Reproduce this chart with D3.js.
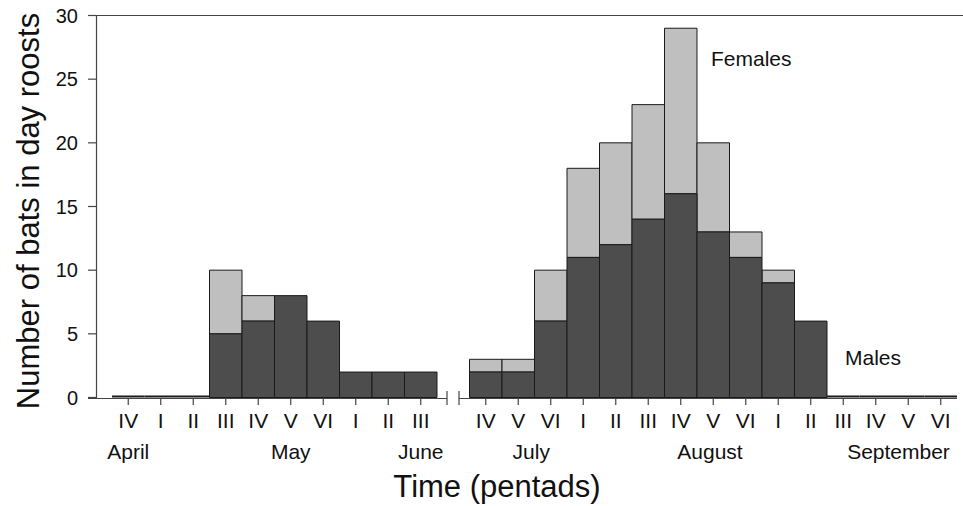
<!DOCTYPE html>
<html>
<head>
<meta charset="utf-8">
<script src="https://cdn.jsdelivr.net/npm/d3@7"></script>
<style>
  body { margin: 0; background: #fff; }
  svg text { font-family: "Liberation Sans", Arial, sans-serif; fill: #111; }
</style>
</head>
<body>
<div id="chart"></div>
<script>
// pentads, April IV .. June III, then (after the break) July IV .. September VI
const pentads = ["IV", "I", "II", "III", "IV", "V", "VI", "I", "II", "III",
                 "IV", "V", "VI", "I", "II", "III", "IV", "V", "VI", "I", "II", "III", "IV", "V", "VI"];
const males   = [0, 0, 0, 5, 6, 8, 6, 2, 2, 2,
                 2, 2, 6, 11, 12, 14, 16, 13, 11, 9, 6, 0, 0, 0, 0];
const females = [0, 0, 0, 5, 2, 0, 0, 0, 0, 0,
                 1, 1, 4, 7, 8, 9, 13, 7, 2, 1, 0, 0, 0, 0, 0];
const months  = ["April", "May", "June", "July", "August", "September"];
const monthAt = [0, 5, 9, 11.4, 16.9, 22.7];
const yTicks  = [0, 5, 10, 15, 20, 25, 30];
const breakAfter = 9; // empty slot after June III

function drawBars() {
    var width = 963, height = 506;
    var svg = d3.select("#chart").append("svg")
        .attr("width", width)
        .attr("height", height);

    var slot = i => i > breakAfter ? i + 1 : i;
    var x = d3.scaleLinear().domain([0, pentads.length + 1]).range([112, 957]);
    var y = d3.scaleLinear().domain([0, 30]).range([397.5, 15.5]);
    var bw = x(1) - x(0);

    var rows = pentads.map((p, i) => ({ p: p, m: males[i], f: females[i], s: slot(i) }));

    function barPath(x0, x1, y0, y1) {
        return "M" + x0 + "," + y0 + "H" + x1 + "V" + y1 + "H" + x0 + "Z";
    }

    // females on top
    svg.append("g").selectAll("path")
        .data(rows.filter(d => d.f > 0))
        .enter().append("path")
        .attr("d", d => barPath(x(d.s), x(d.s + 1), y(d.m), y(d.m + d.f)))
        .attr("fill", "#bfbfbf")
        .attr("stroke", "#1a1a1a")
        .attr("stroke-width", 1);

    // males
    svg.append("g").selectAll("path")
        .data(rows)
        .enter().append("path")
        .attr("d", d => barPath(x(d.s), x(d.s + 1), y(0), y(d.m)))
        .attr("fill", "#4d4d4d")
        .attr("stroke", "#1a1a1a")
        .attr("stroke-width", d => d.m + d.f == 0 ? 2 : 1)
        .attr("transform", d => d.m + d.f == 0 ? "translate(0,-1)" : null);

    var axisCol = "#444";

    // y axis
    svg.append("line").attr("x1", 96.5).attr("x2", 96.5).attr("y1", y(30)).attr("y2", 398.5)
        .attr("stroke", axisCol).attr("stroke-width", 1.2);
    svg.append("line").attr("x1", 88).attr("x2", 963).attr("y1", y(30)).attr("y2", y(30))
        .attr("stroke", axisCol).attr("stroke-width", 1.2);
    svg.append("g").selectAll("line")
        .data(yTicks).enter().append("line")
        .attr("x1", 88).attr("x2", 96)
        .attr("y1", d => y(d)).attr("y2", d => y(d))
        .attr("stroke", axisCol).attr("stroke-width", 1.2);
    svg.append("g").selectAll("text")
        .data(yTicks).enter().append("text")
        .attr("x", 78).attr("y", d => y(d) + 7)
        .attr("text-anchor", "end")
        .style("font-size", "20px")
        .text(d => d);

    // x axis with break
    var by = 398.5;
    var gapL = 447, gapR = 459;
    svg.append("line").attr("x1", 88).attr("x2", gapL).attr("y1", by).attr("y2", by)
        .attr("stroke", axisCol).attr("stroke-width", 1.2);
    svg.append("line").attr("x1", gapR).attr("x2", x(pentads.length + 1)).attr("y1", by).attr("y2", by)
        .attr("stroke", axisCol).attr("stroke-width", 1.2);
    [gapL, gapR].forEach(gx => {
        svg.append("line").attr("x1", gx).attr("x2", gx).attr("y1", 391).attr("y2", 405)
            .attr("stroke", axisCol).attr("stroke-width", 1.2);
    });
    svg.append("g").selectAll("line")
        .data(rows).enter().append("line")
        .attr("x1", d => x(d.s) + bw / 2).attr("x2", d => x(d.s) + bw / 2)
        .attr("y1", by).attr("y2", 405)
        .attr("stroke", axisCol).attr("stroke-width", 1.2);
    svg.append("g").selectAll("text")
        .data(rows).enter().append("text")
        .attr("x", d => x(d.s) + bw / 2).attr("y", 428)
        .attr("text-anchor", "middle")
        .style("font-size", "21px")
        .text(d => d.p);

    svg.append("g").selectAll("text")
        .data(months).enter().append("text")
        .attr("x", (d, i) => x(slot(Math.round(monthAt[i])) + (monthAt[i] - Math.round(monthAt[i]))) + bw / 2)
        .attr("y", 459)
        .attr("text-anchor", "middle")
        .style("font-size", "21px")
        .text(d => d);

    // titles
    svg.append("text")
        .attr("x", 497).attr("y", 497)
        .attr("text-anchor", "middle")
        .style("font-size", "31px")
        .text("Time (pentads)");
    svg.append("text")
        .attr("transform", "translate(39,211) rotate(-90)")
        .attr("text-anchor", "middle")
        .style("font-size", "31px")
        .text("Number of bats in day roosts");

    // series labels
    svg.append("text").attr("x", 711).attr("y", 66)
        .style("font-size", "21px").text("Females");
    svg.append("text").attr("x", 845).attr("y", 365)
        .style("font-size", "21px").text("Males");
}

drawBars()
</script>
</body>
</html>
